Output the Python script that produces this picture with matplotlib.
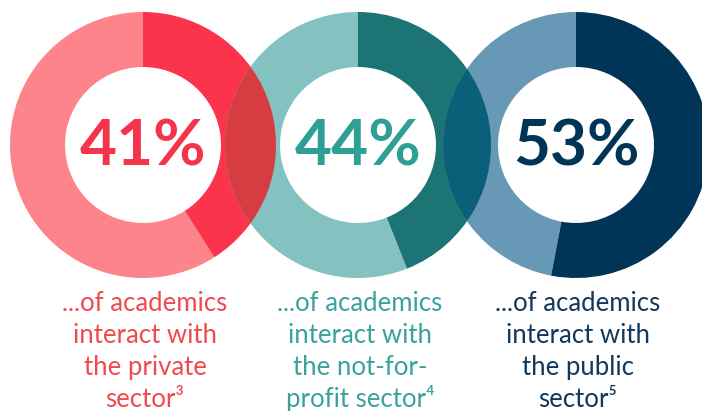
import matplotlib.pyplot as plt
from matplotlib.patches import Wedge, Circle

# Data
shares = [41, 44, 53]
captions = [
    ["...of academics", "interact with", "the private", "sector\u00b3"],
    ["...of academics", "interact with", "the not-for-", "profit sector\u2074"],
    ["...of academics", "interact with", "the public", "sector\u2075"],
]

# Styling
light_colors = ["#fc848a", "#84c2c1", "#6799b6"]
dark_colors = ["#fb344b", "#1c7574", "#003558"]
number_colors = ["#f3344a", "#2f9e94", "#003558"]
caption_colors = ["#ef4b4f", "#3aa29b", "#12385c"]
overlap_colors = ["#d63c42", "#0b5f79"]

W, H = 702, 411
centers_x = [143, 358, 576]
center_y = H - 145
r_out = 133
ring_w = 55
fonts = ["Lato", "DejaVu Sans"]

fig = plt.figure(figsize=(W / 100, H / 100), dpi=100)
ax = fig.add_axes([0, 0, 1, 1])
ax.set_xlim(0, W)
ax.set_ylim(0, H)
ax.set_aspect("equal")
ax.axis("off")

for i, (p, cx) in enumerate(zip(shares, centers_x)):
    end = 90 - p * 3.6
    # remaining part of the ring, then the share (clockwise from the top)
    ax.add_patch(Wedge((cx, center_y), r_out, 90, end + 360, width=ring_w,
                       facecolor=light_colors[i], lw=0))
    ax.add_patch(Wedge((cx, center_y), r_out, end, 90, width=ring_w,
                       facecolor=dark_colors[i], lw=0))

# lens where neighbouring rings overlap
for i in range(len(shares) - 1):
    end = 90 - shares[i] * 3.6
    w = Wedge((centers_x[i], center_y), r_out, end, 90, width=ring_w,
              facecolor=overlap_colors[i], lw=0, zorder=3)
    ax.add_patch(w)
    w.set_clip_path(Circle((centers_x[i + 1], center_y), r_out, transform=ax.transData))

for i, (p, cx) in enumerate(zip(shares, centers_x)):
    ax.text(cx, center_y - 2, f"{p}%", ha="center", va="center",
            fontsize=46, fontweight="bold", color=number_colors[i],
            family=fonts, zorder=5)
    for j, line in enumerate(captions[i]):
        ax.text(cx + 2, H - 311 - 32 * j, line, ha="center", va="baseline",
                fontsize=18.5, color=caption_colors[i], family=fonts, zorder=5)

fig.savefig("out.png", dpi=100)
